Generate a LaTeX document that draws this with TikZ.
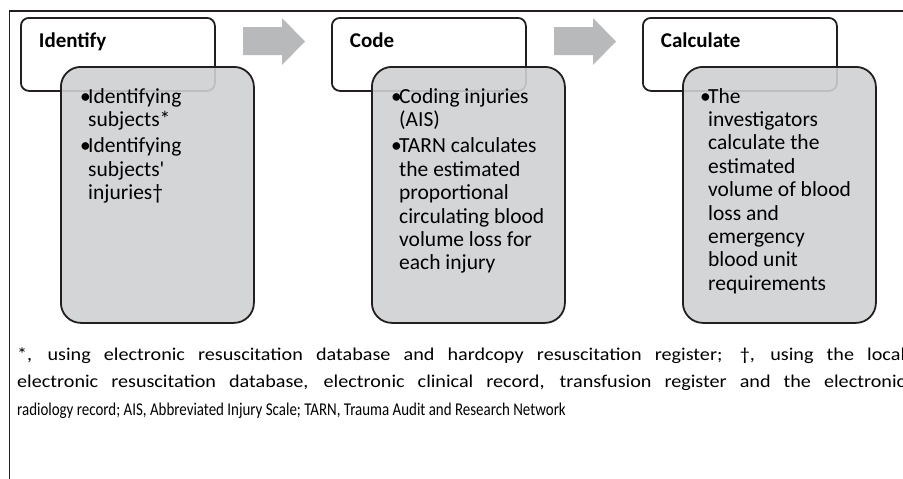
\documentclass[tikz,border=0pt]{standalone}
\usepackage{fontspec}
\setmainfont{Carlito}[Ligatures=TeXOff]
\newfontfamily\notefont{Carlito}[FakeStretch=0.83,Ligatures=TeXOff]
\newfontfamily\widenotefont{Carlito}[FakeStretch=1.12,Ligatures=TeXOff]
\usetikzlibrary{positioning}

\definecolor{boxgray}{RGB}{207,208,210}
\definecolor{arrowgray}{RGB}{184,185,187}
\definecolor{linedark}{RGB}{35,31,32}

\newcommand{\bpt}{\makebox[8pt][l]{•}}

\tikzset{
  headbox/.style={draw=linedark, line width=1.8pt, rounded corners=8pt, fill=white,
    anchor=north west, text width=158pt, inner xsep=18pt, inner ysep=0pt,
    text height=30pt, text depth=43pt, align=left,
    font=\bfseries\fontsize{21}{25}\selectfont},
  bodybox/.style={draw=linedark, line width=1.8pt, rounded corners=20pt, fill=boxgray,
    fill opacity=0.9, anchor=north west, minimum width=193pt, minimum height=256pt,
    inner sep=0pt},
  bodytext/.style={anchor=base west, inner sep=0pt,
    font=\fontsize{21.5}{23.4}\selectfont}
}

\begin{document}
\begin{tikzpicture}[x=1pt,y=-1pt]
  \useasboundingbox (0,0) rectangle (903,479);
  % frame
  \draw[linedark, line width=1.3pt] (910,11) -| (9.5,485);

  % step titles
  \node[headbox] (id) at (20,17) {Identify};
  \node[headbox] (code) at (331,17) {Code};
  \node[headbox] (calc) at (642,17) {Calculate};

  % step contents
  \node[bodybox] (idbody) at (60,66) {};
  \node[bodybox] (codebody) at (371,66) {};
  \node[bodybox] (calcbody) at (682,66) {};

  \node[bodytext] (idtext) at (80,103) {\begin{tabular}[t]{@{}l@{}l@{}}
    \bpt&Identifying\\&subjects*\\[3pt]
    \bpt&Identifying\\&subjects'\\&injuries†\end{tabular}};
  \node[bodytext] (codetext) at (391,103) {\begin{tabular}[t]{@{}l@{}l@{}}
    \bpt&Coding injuries\\&(AIS)\\[3pt]
    \bpt&TARN calculates\\&the estimated\\&proportional\\&circulating blood\\
    &volume loss for\\&each injury\end{tabular}};
  \node[bodytext] (calctext) at (700,103) {\begin{tabular}[t]{@{}l@{}l@{}}
    \bpt&The\\&investigators\\&calculate the\\&estimated\\&volume of blood\\
    &loss and\\&emergency\\&blood unit\\&requirements\end{tabular}};

  % arrows between steps
  \foreach \dx in {0,311}
    \fill[arrowgray, xshift=\dx] (243,27) -- (282,27) -- (282,18) -- (305,41.5)
      -- (282,65) -- (282,55) -- (243,55) -- cycle;

  % footnote
  \node[anchor=base west, inner sep=0pt, align=left,
    font=\fontsize{18}{27.5}\selectfont] (note) at (17,415)
    {{\widenotefont\makebox[888pt][s]{*, using electronic resuscitation database and hardcopy resuscitation register; †, using the local}}\\
     {\widenotefont\makebox[888pt][s]{electronic resuscitation database, electronic clinical record, transfusion register and the electronic}}\\
     {\notefont radiology record; AIS, Abbreviated Injury Scale; TARN, Trauma Audit and Research Network}};
\end{tikzpicture}
\end{document}
